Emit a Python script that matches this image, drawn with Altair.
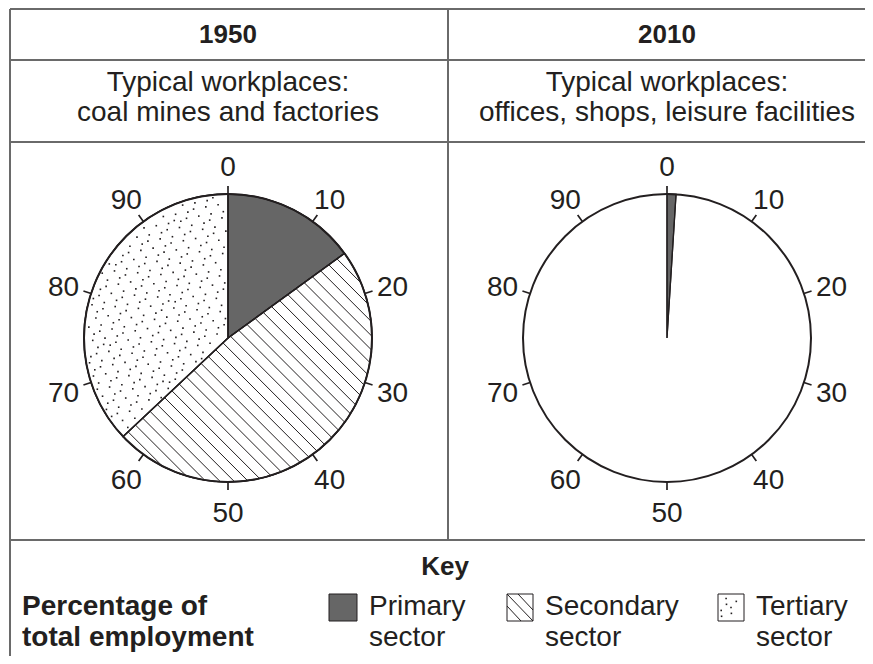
import math
import numpy as np
import pandas as pd
import altair as alt

# ---------------- data ----------------
years = ["1950", "2010"]
sectors = ["Primary sector", "Secondary sector", "Tertiary sector"]
share_1950 = [15, 48, 37]
share_2010 = [1, None, None]          # only the primary sector is shaded for 2010
tick_values = [0, 10, 20, 30, 40, 50, 60, 70, 80, 90]
workplaces = [
    ["Typical workplaces:", "coal mines and factories"],
    ["Typical workplaces:", "offices, shops, leisure facilities"],
]
key_title = "Key"
key_label = ["Percentage of", "total employment"]
sector_words = [["Primary", "sector"], ["Secondary", "sector"], ["Tertiary", "sector"]]

# ---------------- layout (page pixels) ----------------
W, H, OFF = 857, 648, 8
centers = [(228, 338), (667, 338)]
R = 144
LABEL_R = 173
INK = "#231f20"
GREY = "#666666"
LINE = "#6a6a6a"
FONT = "Liberation Sans"
FS = 28

xs = alt.Scale(domain=[OFF, OFF + W], nice=False, zero=False)
ys = alt.Scale(domain=[OFF, OFF + H], nice=False, zero=False, reverse=True)
ts = alt.Scale(domain=[0, 100], range=[0, 2 * math.pi])


def X(f):
    return alt.X(f, type="quantitative", scale=xs, axis=None)


def Y(f):
    return alt.Y(f, type="quantitative", scale=ys, axis=None)


def T(f):
    return alt.Theta(f, type="quantitative", scale=ts, stack=False)


# pie wedges
rows = []
for yi, (yr, shares) in enumerate(zip(years, [share_1950, share_2010])):
    cum = 0
    for s, v in zip(sectors, shares):
        if v is None:
            continue
        rows.append(dict(year=yr, sector=s, start=cum, end=cum + v,
                         cx=centers[yi][0], cy=centers[yi][1]))
        cum += v
wedges = pd.DataFrame(rows)
circles = pd.DataFrame([dict(year=yr, start=0, end=100, cx=c[0], cy=c[1])
                        for yr, c in zip(years, centers)])


def in_wedge_params(a1, a2):
    t1, t2 = a1 / 100 * 2 * math.pi, a2 / 100 * 2 * math.pi
    return (math.sin(t1), math.cos(t1)), (math.sin(t2), math.cos(t2))


def hatch(cx, cy, a1, a2, spacing=10.0, dirv=(1.0, -1.0)):
    u1, u2 = in_wedge_params(a1, a2)
    dl = math.hypot(*dirv)
    d = (dirv[0] / dl, dirv[1] / dl)
    n = (-d[1], d[0])
    segs = []
    kmax = int(R / spacing) + 2
    for k in range(-kmax, kmax + 1):
        off = k * spacing + 3.0
        if off * off >= R * R:
            continue
        p0 = (n[0] * off, n[1] * off)
        h = math.sqrt(R * R - off * off)
        lo, hi = -h, h
        for u, sign in ((u1, -1), (u2, 1)):
            a = sign * (u[0] * d[1] - u[1] * d[0])
            b = sign * (u[0] * p0[1] - u[1] * p0[0])
            if abs(a) < 1e-12:
                if b < 0:
                    lo, hi = 1, 0
            elif a > 0:
                lo = max(lo, -b / a)
            else:
                hi = min(hi, -b / a)
        if hi - lo > 0.5:
            pa = (p0[0] + lo * d[0], p0[1] + lo * d[1])
            pb = (p0[0] + hi * d[0], p0[1] + hi * d[1])
            segs.append(dict(x=cx + pa[0], y=cy - pa[1], x2=cx + pb[0], y2=cy - pb[1]))
    return segs


def stipple(cx, cy, a1, a2, n=1100):
    u1, u2 = in_wedge_params(a1, a2)
    g1, g2 = 0.7548776662466927, 0.5698402909980532
    pts = []
    for i in range(n):
        px = (((0.5 + i * g1) % 1.0) * 2 - 1) * R
        py = (((0.5 + i * g2) % 1.0) * 2 - 1) * R
        if px * px + py * py > (R - 2.5) ** 2:
            continue
        c1 = u1[0] * py - u1[1] * px
        c2 = u2[0] * py - u2[1] * px
        if c1 <= -2 and c2 >= 2:
            pts.append(dict(x=cx + px, y=cy - py))
    return pts


hatch_rows, dot_rows = [], []
for _, r in wedges.iterrows():
    if r["sector"] == "Secondary sector":
        hatch_rows += hatch(r["cx"], r["cy"], r["start"], r["end"])
    if r["sector"] == "Tertiary sector":
        dot_rows += stipple(r["cx"], r["cy"], r["start"], r["end"])
hatch_df = pd.DataFrame(hatch_rows)
dots_df = pd.DataFrame(dot_rows)

ticks = pd.DataFrame([dict(pos=v, cx=c[0], cy=c[1], label=str(v))
                      for c in centers for v in tick_values])

# ---------------- table frame ----------------
frame = pd.DataFrame([
    dict(x=10, y=9, x2=865, y2=9),
    dict(x=10, y=60, x2=865, y2=60),
    dict(x=10, y=142, x2=865, y2=142),
    dict(x=10, y=540, x2=865, y2=540),
    dict(x=10, y=9, x2=10, y2=656),
    dict(x=448, y=9, x2=448, y2=540),
])
frame_layer = alt.Chart(frame).mark_rule(color=LINE, strokeWidth=2).encode(
    x=X("x"), y=Y("y"), x2=alt.X2("x2"), y2=alt.Y2("y2"))

# header texts
head_df = pd.DataFrame([dict(t=yr, x=c[0], y=35) for yr, c in zip(years, centers)])
head = alt.Chart(head_df).mark_text(font=FONT, fontSize=26, fontWeight="bold",
                                    color=INK, baseline="middle").encode(
    x=X("x"), y=Y("y"), text="t:N")
sub_rows = []
for wp, c in zip(workplaces, centers):
    sub_rows.append(dict(t=wp[0], x=c[0], y=83))
    sub_rows.append(dict(t=wp[1], x=c[0], y=113))
sub = alt.Chart(pd.DataFrame(sub_rows)).mark_text(font=FONT, fontSize=FS, color=INK,
                                                  baseline="middle").encode(
    x=X("x"), y=Y("y"), text="t:N")

# ---------------- pies ----------------
bg = alt.Chart(circles).mark_arc(fill="white", radius=R).encode(
    x=X("cx"), y=Y("cy"), theta=T("start"), theta2=alt.Theta2("end"))
fill_layer = alt.Chart(wedges).mark_arc(radius=R, stroke=INK, strokeWidth=1.2).encode(
    x=X("cx"), y=Y("cy"), theta=T("start"), theta2=alt.Theta2("end"),
    fill=alt.Fill("sector:N", scale=alt.Scale(domain=sectors, range=[GREY, "white", "white"]),
                  legend=None))
hatch_layer = alt.Chart(hatch_df).mark_rule(color=INK, strokeWidth=1).encode(
    x=X("x"), y=Y("y"), x2=alt.X2("x2"), y2=alt.Y2("y2"))
dots_layer = alt.Chart(dots_df).mark_square(size=2.6, color=INK, opacity=1).encode(
    x=X("x"), y=Y("y"))
outline = alt.Chart(wedges).mark_arc(radius=R, fillOpacity=0, stroke=INK,
                                     strokeWidth=1.3).encode(
    x=X("cx"), y=Y("cy"), theta=T("start"), theta2=alt.Theta2("end"))
rim = alt.Chart(circles).mark_arc(radius=R, fillOpacity=0, stroke=INK, strokeWidth=2).encode(
    x=X("cx"), y=Y("cy"), theta=T("start"), theta2=alt.Theta2("end"))
tick_layer = alt.Chart(ticks).transform_calculate(
    t0="datum.pos - 0.09", t1="datum.pos + 0.09").mark_arc(
    radius=R + 8, radius2=R, color=INK).encode(
    x=X("cx"), y=Y("cy"), theta=T("t0"), theta2=alt.Theta2("t1"))
label_layer = alt.Chart(ticks).mark_text(font=FONT, fontSize=FS, color=INK,
                                         baseline="middle", radius=LABEL_R, dy=3).encode(
    x=X("cx"), y=Y("cy"), theta=T("pos"), text="label:N")

# ---------------- key ----------------
key_head = alt.Chart(pd.DataFrame([dict(t=key_title, x=445, y=567)])).mark_text(
    font=FONT, fontSize=26, fontWeight="bold", color=INK, baseline="middle").encode(
    x=X("x"), y=Y("y"), text="t:N")
kl = pd.DataFrame([dict(t=key_label[0], x=22, y=607), dict(t=key_label[1], x=22, y=638)])
key_left = alt.Chart(kl).mark_text(font=FONT, fontSize=FS, fontWeight="bold", color=INK,
                                   align="left", baseline="middle").encode(
    x=X("x"), y=Y("y"), text="t:N")
swatch_x = [(329, 357), (507, 533), (718, 744)]
text_x = [369, 545, 756]
sw = pd.DataFrame([dict(sector=s, x=a, x2=b, y=594, y2=621)
                   for s, (a, b) in zip(sectors, swatch_x)])
sw_layer = alt.Chart(sw).mark_rect(stroke=INK, strokeWidth=1).encode(
    x=X("x"), x2=alt.X2("x2"), y=Y("y"), y2=alt.Y2("y2"),
    fill=alt.Fill("sector:N", scale=alt.Scale(domain=sectors, range=[GREY, "white", "white"]),
                  legend=None))
kt_rows = []
for words, x in zip(sector_words, text_x):
    kt_rows.append(dict(t=words[0], x=x, y=607))
    kt_rows.append(dict(t=words[1], x=x, y=638))
key_text = alt.Chart(pd.DataFrame(kt_rows)).mark_text(
    font=FONT, fontSize=FS, color=INK, align="left", baseline="middle").encode(
    x=X("x"), y=Y("y"), text="t:N")

# swatch textures
sx0, sx1 = swatch_x[1]
sw_hatch = pd.DataFrame([
    dict(x=sx0, y=594, x2=sx1, y2=621),
    dict(x=sx0 + 11, y=594, x2=sx1, y2=610),
    dict(x=sx0, y=606, x2=sx1 - 12, y2=621),
])
sw_hatch_layer = alt.Chart(sw_hatch).mark_rule(color=INK, strokeWidth=1).encode(
    x=X("x"), y=Y("y"), x2=alt.X2("x2"), y2=alt.Y2("y2"))
tx0, tx1 = swatch_x[2]
g1, g2 = 0.7548776662466927, 0.5698402909980532
sw_dots = pd.DataFrame([dict(x=tx0 + 3 + ((0.5 + i * g1) % 1) * 20,
                             y=597 + ((0.5 + i * g2) % 1) * 21) for i in range(7)])
sw_dots_layer = alt.Chart(sw_dots).mark_square(size=2.6, color=INK, opacity=1).encode(
    x=X("x"), y=Y("y"))

chart = alt.layer(
    frame_layer, head, sub,
    bg, fill_layer, hatch_layer, dots_layer, outline, rim, tick_layer, label_layer,
    key_head, key_left, sw_layer, sw_hatch_layer, sw_dots_layer, key_text,
).properties(
    width=W, height=H, padding=0, autosize=alt.AutoSizeParams(type="none"),
    background="white",
).configure_view(stroke=None)

chart.save("out.html", embed_options={"renderer": "svg", "actions": False})
